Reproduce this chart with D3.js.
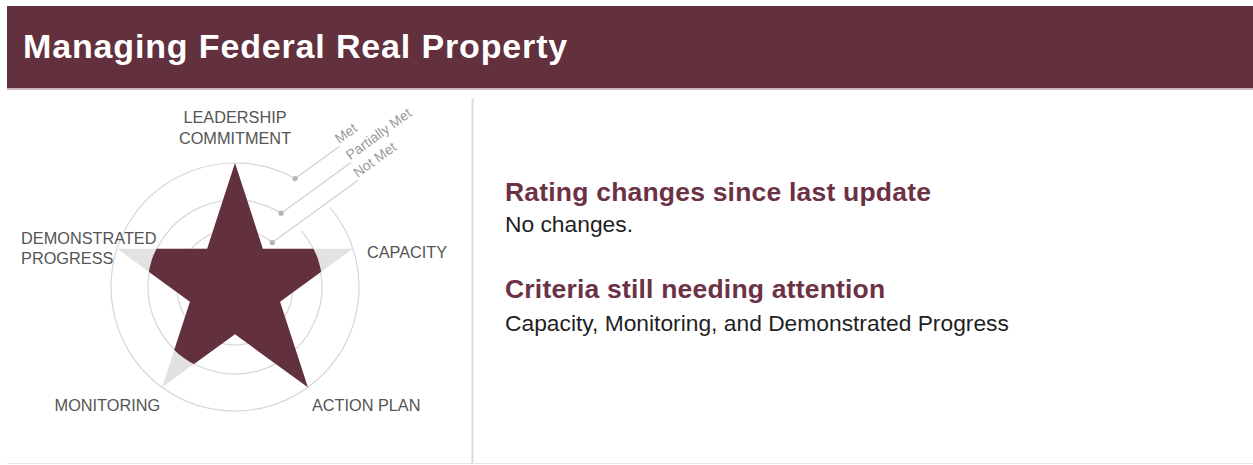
<html>
    <head>
        <title>Managing Federal Real Property</title>
        <script src="https://d3js.org/d3.v7.min.js" charset="utf-8"></script>
        <style>
        body {
            margin: 0;
            background: white;
            font-family: "Liberation Sans", Arial, sans-serif;
        }
        </style>
    </head>
    <body>
        <script>
            // chart content
            var title = "Managing Federal Real Property";
            var criteria = ["Leadership Commitment", "Capacity", "Action Plan", "Monitoring", "Demonstrated Progress"];
            var criteriaLines = [["LEADERSHIP", "COMMITMENT"], ["CAPACITY"], ["ACTION PLAN"], ["MONITORING"], ["DEMONSTRATED", "PROGRESS"]];
            var ratings = ["Met", "Partially Met", "Met", "Partially Met", "Partially Met"];
            var levels = ["Not Met", "Partially Met", "Met"];
            var headings = ["Rating changes since last update", "Criteria still needing attention"];
            var notes = ["No changes.", "Capacity, Monitoring, and Demonstrated Progress"];

            var width = 1253;
            var height = 465;
            var maroon = "#63303d";

            var svg = d3.select("body")
                .append("svg")
                .attr("width", width)
                .attr("height", height);

            // header band
            svg.append("rect")
                .attr("x", 7).attr("y", 6)
                .attr("width", width - 7).attr("height", 82)
                .attr("fill", maroon);
            svg.append("rect")
                .attr("x", 7).attr("y", 88)
                .attr("width", width - 7).attr("height", 2)
                .attr("fill", "#cdb6bc");
            svg.append("text")
                .attr("x", 23).attr("y", 58)
                .attr("fill", "white")
                .attr("font-size", 34)
                .attr("font-weight", "bold")
                .attr("letter-spacing", 0.85)
                .text(title);

            // divider + bottom rule
            svg.append("line")
                .attr("x1", 472.5).attr("x2", 472.5)
                .attr("y1", 98).attr("y2", 463)
                .attr("stroke", "#dcdcdc").attr("stroke-width", 2);
            svg.append("line")
                .attr("x1", 7).attr("x2", width)
                .attr("y1", 463.5).attr("y2", 463.5)
                .attr("stroke", "#e6e6e6").attr("stroke-width", 1);

            // star chart
            var cx = 235, cy = 287, R = 124;
            var radius = d3.scaleOrdinal().domain(levels).range([58, 87, R]);
            var angle = d3.scalePoint().domain(criteria).range([0, 2 * Math.PI * 4 / 5]);

            var chart = svg.append("g").attr("transform", "translate(" + cx + "," + cy + ")");

            // rings, opened where the legend leaders pass
            var legendAngle = d3.scaleOrdinal().domain(levels).range([-50, -58, -61]);
            var legendLen = d3.scaleOrdinal().domain(levels).range([106, 86, 55]);
            var gapEnd = -40 * Math.PI / 180;
            chart.selectAll("path.ring")
                .data(levels)
                .enter()
                .append("path")
                .attr("class", "ring")
                .attr("fill", "none")
                .attr("stroke", "#d6d6d6")
                .attr("stroke-width", 1.2)
                .attr("d", function(d) {
                    var r = radius(d);
                    var a1 = (360 + legendAngle(d)) * Math.PI / 180;
                    var p = d3.path();
                    p.moveTo(r * Math.cos(gapEnd), r * Math.sin(gapEnd));
                    p.arc(0, 0, r, gapEnd, a1, false);
                    return p.toString();
                });

            // star outline generator
            var starPoints = d3.range(10).map(function(i) {
                return [i * Math.PI / 5, i % 2 ? R * 0.382 : R];
            });
            var star = d3.lineRadial().curve(d3.curveLinearClosed);

            chart.append("path")
                .attr("d", star(starPoints))
                .attr("fill", "#e2e2e2");

            // clip each arm to its rating
            var sector = d3.arc();
            var clip = svg.append("defs").append("clipPath").attr("id", "ratingClip");
            clip.selectAll("path")
                .data(criteria)
                .enter()
                .append("path")
                .attr("d", function(d, i) {
                    return sector({
                        innerRadius: 0,
                        outerRadius: radius(ratings[i]) + 0.5,
                        startAngle: angle(d) - Math.PI / 5,
                        endAngle: angle(d) + Math.PI / 5
                    });
                });

            chart.append("path")
                .attr("d", star(starPoints))
                .attr("fill", maroon)
                .attr("clip-path", "url(#ratingClip)");

            // legend leaders
            var leadDir = -36 * Math.PI / 180;
            var legend = chart.selectAll("g.legend")
                .data(levels)
                .enter()
                .append("g")
                .attr("class", "legend");
            legend.each(function(d) {
                var a = legendAngle(d) * Math.PI / 180;
                var x0 = radius(d) * Math.cos(a), y0 = radius(d) * Math.sin(a);
                var x1 = x0 + legendLen(d) * Math.cos(leadDir), y1 = y0 + legendLen(d) * Math.sin(leadDir);
                var g = d3.select(this);
                g.append("line")
                    .attr("x1", x0).attr("y1", y0)
                    .attr("x2", x1).attr("y2", y1)
                    .attr("stroke", "#d0d0d0").attr("stroke-width", 1.2);
                g.append("circle")
                    .attr("cx", x0).attr("cy", y0).attr("r", 2.6)
                    .attr("fill", "#b5b5b5");
                g.append("text")
                    .attr("transform", "translate(" + x1 + "," + y1 + ") rotate(-36)")
                    .attr("x", 1).attr("y", -2)
                    .attr("fill", "#9a9a9a")
                    .attr("font-size", 14)
                    .text(d);
            });

            // axis labels
            var labelLayout = [
                {anchor: "middle", dx: 0, dy: -40},
                {anchor: "start", dx: 14, dy: 9},
                {anchor: "start", dx: 4, dy: 24},
                {anchor: "end", dx: -2, dy: 24},
                {anchor: "start", dx: -96, dy: -5}
            ];
            chart.selectAll("text.axis")
                .data(criteria)
                .enter()
                .append("text")
                .attr("class", "axis")
                .attr("fill", "#555")
                .attr("font-size", 16.3)
                .attr("text-anchor", function(d, i) { return labelLayout[i].anchor; })
                .each(function(d, i) {
                    var a = angle(d);
                    var x = R * Math.sin(a) + labelLayout[i].dx;
                    var y = -R * Math.cos(a) + labelLayout[i].dy;
                    d3.select(this).selectAll("tspan")
                        .data(criteriaLines[i])
                        .enter()
                        .append("tspan")
                        .attr("x", x)
                        .attr("y", function(t, j) { return y + j * 20.5; })
                        .text(function(t) { return t; });
                });

            // right panel
            var panel = svg.append("g").attr("transform", "translate(505,0)");
            var blockY = [201, 298];
            var noteGap = [31, 33];
            headings.forEach(function(h, i) {
                panel.append("text")
                    .attr("x", 0).attr("y", blockY[i])
                    .attr("fill", "#6b3245")
                    .attr("font-size", 26.5)
                    .attr("font-weight", "bold")
                    .attr("letter-spacing", 0.2)
                    .text(h);
                panel.append("text")
                    .attr("x", 0).attr("y", blockY[i] + noteGap[i])
                    .attr("fill", "#1f1f1f")
                    .attr("font-size", 22.8)
                    .text(notes[i]);
            });
        </script>
    </body>
</html>
